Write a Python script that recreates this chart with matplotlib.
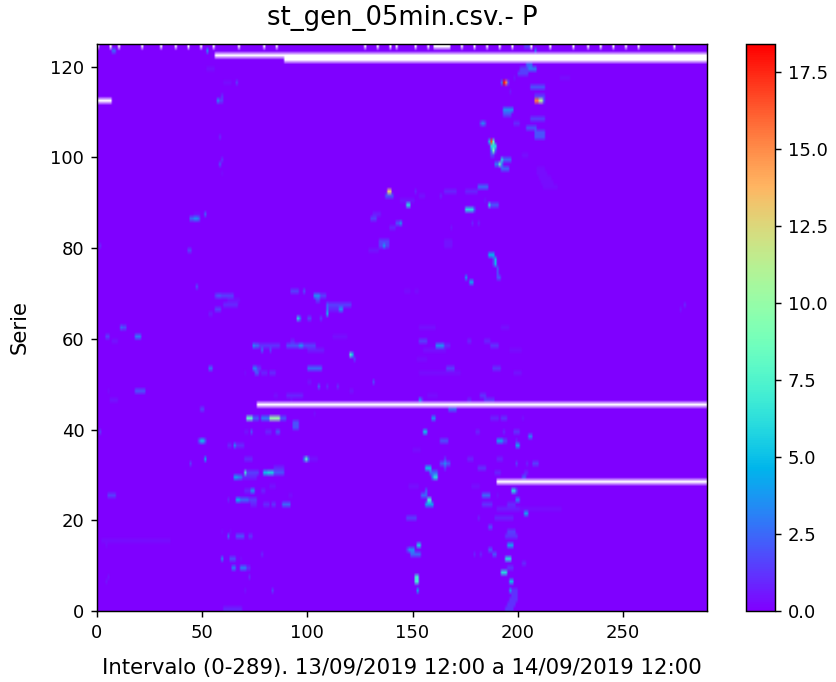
import numpy as np
import matplotlib
matplotlib.use("Agg")
import matplotlib.pyplot as plt

Title = "st_gen_05min.csv.- P"
n_series = 125
n_intervalos = 290

# Each item of tramos_*: (first interval, last interval, value), in the same order as series_*
series_alto = [124, 123, 120, 119, 118, 117, 116, 115, 114, 113, 112, 110, 109, 108, 107, 106, 105, 104,
               103, 102, 101, 100, 99, 98, 97, 96, 95, 94, 93, 92, 91, 90, 89, 88, 87, 86, 85, 84]
tramos_alto = [
    [(203, 206, 1.5)],
    [(7, 8, 2.5), (52, 52, 3.5), (208, 208, 3)],
    [(204, 206, 2.5)],
    [(52, 55, 0.4), (201, 204, 1.5), (205, 208, 3)],
    [(200, 204, 1.5)],
    [(198, 198, 0.5), (220, 224, 0.3)],
    [(60, 63, 0.3), (66, 66, 1.5), (192, 192, 3), (193, 193, 18.4), (194, 194, 15), (195, 195, 2)],
    [(206, 212, 2)],
    [(196, 196, 0.6)],
    [(59, 59, 1.2), (208, 212, 1.5)],
    [(57, 57, 3.5), (58, 59, 1.5), (208, 209, 15.5), (210, 211, 11), (212, 212, 2)],
    [(193, 197, 3.5)],
    [(193, 196, 1.8)],
    [(206, 212, 1.5)],
    [(182, 184, 2), (183, 183, 3.5), (198, 200, 1)],
    [(204, 208, 2)],
    [(208, 212, 2)],
    [(58, 58, 1), (208, 212, 2)],
    [(186, 186, 5), (187, 187, 17), (188, 188, 8)],
    [(187, 189, 6)],
    [(187, 187, 3), (188, 188, 9), (189, 189, 2)],
    [(187, 188, 1.5), (202, 204, 0.4)],
    [(59, 59, 1.2), (192, 192, 6), (193, 196, 2.5)],
    [(58, 58, 2), (189, 192, 3), (191, 191, 8)],
    [(192, 195, 2.5), (209, 212, 0.3)],
    [(59, 59, 0.3), (209, 213, 0.35)],
    [(210, 215, 0.35)],
    [(211, 216, 0.35)],
    [(181, 185, 2.5), (212, 218, 0.35)],
    [(138, 139, 13), (151, 151, 0.8), (165, 170, 0.8), (175, 180, 0.8)],
    [(137, 140, 2), (153, 155, 0.5), (163, 163, 0.8)],
    [(144, 150, 0.5), (184, 184, 0.5)],
    [(147, 148, 6), (186, 186, 6), (187, 190, 2)],
    [(175, 178, 6), (179, 179, 2)],
    [(46, 48, 0.35), (51, 51, 2.5), (131, 134, 0.7)],
    [(44, 48, 2.5), (46, 47, 3.5), (130, 132, 1.5)],
    [(142, 143, 2), (144, 144, 4), (178, 178, 0.8), (181, 181, 0.8)],
    [(139, 141, 0.8), (168, 168, 0.5)],
]

series_medio = [81, 80, 79, 78, 77, 76, 75, 74, 73, 72, 71, 70, 69, 68, 67, 66, 65, 64, 62, 60, 59, 58, 57,
                56, 55, 53, 52, 50, 49, 48, 47, 46]
tramos_medio = [
    [(134, 138, 1.5), (165, 168, 0.5)],
    [(1, 1, 1), (134, 138, 1.5), (136, 136, 4), (165, 168, 0.5)],
    [(43, 44, 1.5), (129, 133, 0.5)],
    [(186, 188, 4.5)],
    [(188, 188, 1.5), (189, 189, 5)],
    [(188, 188, 1.5), (189, 189, 5)],
    [(190, 190, 2)],
    [(190, 190, 2)],
    [(175, 175, 4), (190, 191, 2)],
    [(177, 178, 4)],
    [(47, 47, 2)],
    [(92, 95, 1.5), (98, 98, 2), (146, 148, 0.35), (151, 152, 0.35)],
    [(56, 64, 1.5), (57, 58, 2), (103, 105, 3.5), (106, 108, 1.5)],
    [(62, 67, 0.4), (104, 105, 1.5)],
    [(60, 66, 1), (109, 109, 2.5), (110, 120, 1.5), (279, 279, 1)],
    [(56, 58, 1.5), (109, 109, 3), (110, 114, 0.8), (115, 116, 3.5), (277, 277, 0.6)],
    [(53, 54, 0.6), (109, 109, 5)],
    [(95, 95, 6), (96, 96, 3), (100, 101, 1.5), (106, 106, 1.5)],
    [(11, 11, 2.5), (12, 13, 1.8), (153, 160, 0.4), (192, 195, 0.4)],
    [(4, 5, 1.5), (18, 20, 3), (112, 118, 0.4)],
    [(7, 9, 0.5), (92, 93, 0.8), (153, 156, 1.5), (176, 177, 0.8), (184, 186, 0.8)],
    [(74, 74, 3.5), (75, 76, 2.5), (77, 86, 1.2), (90, 95, 1.8), (96, 97, 3.5), (98, 103, 1.5),
     (161, 164, 3.5), (165, 167, 0.8), (187, 190, 1.2)],
    [(78, 78, 2.5), (82, 82, 1.5), (100, 107, 0.7), (155, 165, 0.4), (196, 201, 0.3)],
    [(120, 120, 7), (121, 121, 5)],
    [(122, 122, 1.5), (152, 156, 0.3)],
    [(53, 54, 2.5), (74, 75, 3), (76, 77, 1.2), (100, 106, 2.5), (166, 169, 1.5), (188, 191, 1.2)],
    [(70, 70, 0.35), (75, 76, 2), (78, 80, 0.8), (82, 84, 1), (153, 172, 0.35), (198, 201, 0.5)],
    [(100, 101, 0.5), (131, 131, 1.8)],
    [(105, 105, 2.5), (109, 109, 1), (114, 114, 1.2)],
    [(5, 5, 0.35), (18, 22, 2), (120, 121, 0.5)],
    [(84, 85, 0.4), (90, 97, 0.8), (157, 161, 0.35), (182, 184, 1.2)],
    [(6, 9, 0.5), (92, 92, 0.35), (153, 153, 4), (154, 154, 1.5), (176, 177, 0.8), (184, 188, 1.2)],
]

series_bajo = [44, 43, 42, 41, 40, 39, 38, 37, 36, 35, 33, 32, 31, 30, 29, 27, 26, 25, 24, 23, 22, 21, 20,
               18, 17, 16, 15, 14, 13, 12, 11, 10, 9, 8, 7, 6, 4, 3, 2, 1, 0]
tramos_bajo = [
    [(49, 50, 1.5), (167, 170, 2.5)],
    [(103, 103, 0.4)],
    [(71, 73, 8), (74, 76, 2), (78, 81, 3), (82, 86, 10), (87, 89, 2), (159, 160, 3.5), (187, 190, 0.8),
     (192, 194, 1.2), (202, 202, 0.5)],
    [(93, 95, 2)],
    [(93, 95, 2)],
    [(1, 1, 1.5), (70, 71, 0.5), (73, 73, 2), (80, 82, 0.8), (85, 86, 2), (155, 156, 5), (180, 181, 0.8),
     (193, 193, 1), (198, 200, 1.2)],
    [(205, 206, 3)],
    [(48, 48, 2), (49, 50, 5), (51, 51, 2), (163, 166, 1.8), (190, 192, 4), (193, 194, 1.5), (199, 199, 0.8)],
    [(62, 63, 0.8), (65, 65, 3.5), (66, 69, 1), (199, 200, 4)],
    [(150, 153, 0.35)],
    [(51, 51, 4.5), (70, 73, 1), (98, 98, 3), (99, 99, 8), (100, 100, 3), (101, 104, 0.5), (165, 165, 1.5),
     (176, 178, 0.8), (190, 192, 0.8)],
    [(44, 44, 1.5), (163, 167, 2), (165, 165, 3.5), (199, 199, 1.5), (204, 204, 0.8), (207, 209, 1.5)],
    [(84, 88, 1), (156, 158, 5), (165, 165, 1.5), (181, 184, 1.2)],
    [(70, 70, 7), (71, 76, 1.5), (79, 80, 5), (81, 83, 5.5), (84, 88, 2), (158, 161, 2.5), (189, 191, 0.8),
     (203, 204, 0.8)],
    [(65, 66, 4), (67, 68, 3), (69, 75, 0.8), (159, 159, 3), (160, 161, 6), (202, 203, 2)],
    [(82, 84, 0.5), (148, 152, 0.4), (178, 181, 0.4)],
    [(70, 72, 0.8), (73, 74, 3.5), (78, 79, 0.8), (156, 156, 2.5), (197, 198, 6), (199, 199, 2)],
    [(5, 8, 1.5), (91, 92, 0.35), (154, 156, 2.5), (183, 186, 2.5), (190, 190, 0.4)],
    [(62, 62, 0.8), (66, 67, 4.5), (68, 71, 2.5), (72, 75, 1.5), (157, 158, 7), (199, 200, 3)],
    [(73, 75, 0.8), (79, 81, 1), (83, 84, 1.2), (88, 91, 2.5), (156, 159, 4), (183, 187, 1.2), (195, 198, 1)],
    [(190, 200, 0.7), (201, 220, 0.3)],
    [(203, 204, 4)],
    [(147, 151, 1.5), (181, 181, 0.8), (189, 197, 0.8)],
    [(186, 187, 1.8)],
    [(59, 59, 0.35), (63, 63, 0.35), (195, 198, 1.5)],
    [(62, 62, 2.5), (66, 69, 2), (72, 73, 1.2), (194, 199, 1.2)],
    [(2, 34, 0.3)],
    [(4, 4, 0.3), (152, 153, 5.5), (195, 197, 4)],
    [(147, 147, 1.5), (148, 150, 3.5), (186, 187, 2)],
    [(78, 78, 1), (149, 153, 2.5), (179, 179, 0.8), (182, 182, 1), (188, 189, 2)],
    [(59, 59, 3.5), (63, 65, 1.8), (68, 68, 0.35), (194, 196, 6)],
    [(202, 203, 1)],
    [(64, 65, 3), (68, 70, 3), (71, 72, 1), (195, 197, 1.2)],
    [(192, 194, 6)],
    [(5, 5, 0.5), (72, 72, 1), (151, 152, 7)],
    [(4, 4, 0.5), (151, 152, 7), (196, 197, 5)],
    [(70, 70, 0.5), (83, 83, 1.5), (152, 152, 4.5), (196, 196, 4), (197, 199, 1.2)],
    [(197, 199, 1.2)],
    [(196, 199, 1.2)],
    [(195, 198, 1.2)],
    [(60, 68, 0.8), (194, 197, 1.2)],
]

# Missing stretches (white in the plot)
huecos_serie = [122, 121, 112, 45, 28]
huecos_ini = [56, 89, 0, 76, 190]
huecos_fin = [289, 289, 6, 289, 289]
huecos_124 = [0, 6, 10, 21, 30, 37, 43, 49, 55, 67, 79, 85, 127, 133, 139, 142, 151, 157, 160, 161, 162, 163,
              164, 165, 166, 167, 173, 179, 185, 191, 197, 206, 215, 226, 233, 239, 245, 251, 257, 274]

x_ticks = [0, 50, 100, 150, 200, 250]
y_ticks = [0, 20, 40, 60, 80, 100, 120]
cb_ticks = [0.0, 2.5, 5.0, 7.5, 10.0, 12.5, 15.0, 17.5]

P = np.zeros((n_series, n_intervalos))
for series, tramos in ((series_alto, tramos_alto), (series_medio, tramos_medio), (series_bajo, tramos_bajo)):
    for s, fila in zip(series, tramos):
        for ini, fin, val in fila:
            P[s, ini:fin + 1] = val

huecos = np.zeros(P.shape)
for s, ini, fin in zip(huecos_serie, huecos_ini, huecos_fin):
    huecos[s, ini:fin + 1] = 1
huecos[124, huecos_124] = 1
P[huecos == 1] = 0

W, H = 836, 682
extent = (0, n_intervalos, 0, n_series)
fig = plt.figure(figsize=(W / 130, H / 130), dpi=130)
ax = fig.add_axes([97 / W, 1 - 611 / H, 610 / W, 567 / H])
cax = fig.add_axes([746 / W, 1 - 611 / H, 29 / W, 567 / H])

# the reference looks upscaled, so a soft interpolation gets closer than hard cells
img = ax.imshow(P, cmap="rainbow", vmin=0, vmax=P.max(), origin="lower",
                aspect="auto", extent=extent, interpolation="bilinear")
# white on top where there is no data; masking directly leaves grey edges
ax.imshow(np.ones(P.shape), cmap="gray", vmin=0, vmax=1, alpha=huecos, origin="lower",
          aspect="auto", extent=extent, interpolation="bilinear")
ax.set_title(Title, fontsize=14.3, pad=10.5)
ax.set_xlabel("Intervalo (0-289). 13/09/2019 12:00 a 14/09/2019 12:00", fontsize=11.8, labelpad=9.3)
ax.set_ylabel("Serie", fontsize=11.8, labelpad=11.3)
ax.set_xticks(x_ticks)
ax.set_yticks(y_ticks)

cb = fig.colorbar(img, cax=cax)
cb.set_ticks(cb_ticks)

fig.savefig("out.png", dpi=130)
